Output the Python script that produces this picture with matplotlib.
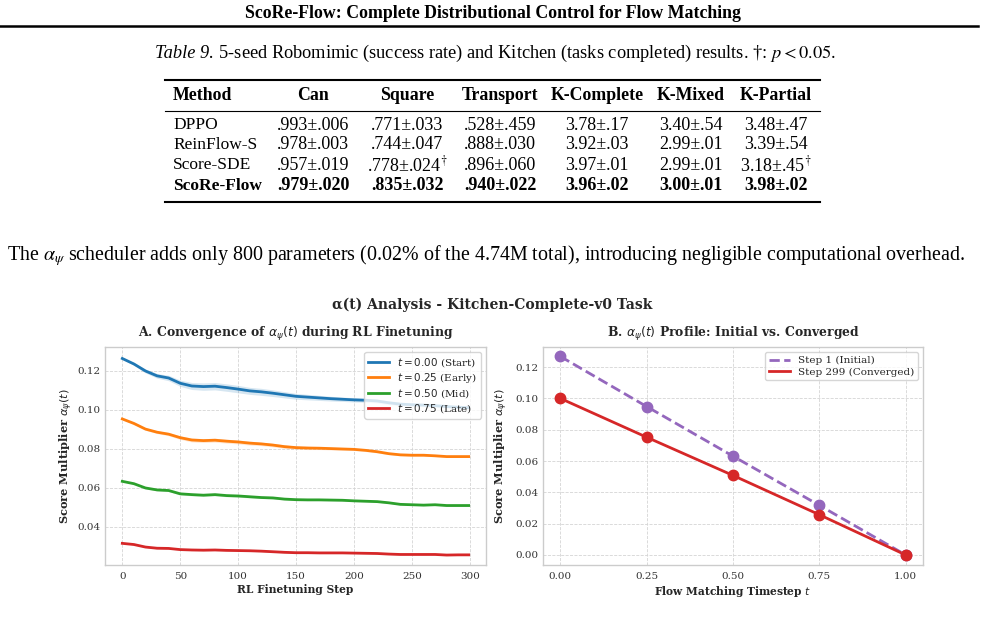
import matplotlib
matplotlib.use("Agg")
import matplotlib.pyplot as plt
from matplotlib.lines import Line2D

# ---- table data ----
columns = ["Method", "Can", "Square", "Transport", "K-Complete", "K-Mixed", "K-Partial"]
methods = ["DPPO", "ReinFlow-S", "Score-SDE", "ScoRe-Flow"]
table_rows = [
    [".993±.006", ".771±.033", ".528±.459", "3.78±.17", "3.40±.54", "3.48±.47"],
    [".978±.003", ".744±.047", ".888±.030", "3.92±.03", "2.99±.01", "3.39±.54"],
    [".957±.019", ".778±.024$^{\\dagger}$", ".896±.060", "3.97±.01", "2.99±.01", "3.18±.45$^{\\dagger}$"],
    [".979±.020", ".835±.032", ".940±.022", "3.96±.02", "3.00±.01", "3.98±.02"],
]

# ---- panel A: alpha_psi(t) during finetuning (mean and std over seeds) ----
steps = [0, 10, 20, 30, 40, 50, 60, 70, 80, 90, 100, 110, 120, 130, 140, 150,
         160, 170, 180, 190, 200, 210, 220, 230, 240, 250, 260, 270, 280, 290, 299]
alpha_t000 = [0.1264, 0.1236, 0.1200, 0.1175, 0.1164, 0.1137, 0.1123, 0.1120, 0.1122, 0.1115, 0.1107,
              0.1098, 0.1093, 0.1086, 0.1078, 0.1070, 0.1066, 0.1062, 0.1058, 0.1055, 0.1052,
              0.1050, 0.1046, 0.1037, 0.1030, 0.1027, 0.1025, 0.1022, 0.1018, 0.1014, 0.1012]
alpha_t025 = [0.0954, 0.0931, 0.0902, 0.0886, 0.0876, 0.0858, 0.0846, 0.0843, 0.0845, 0.0840, 0.0836,
              0.0830, 0.0826, 0.0820, 0.0812, 0.0807, 0.0805, 0.0804, 0.0802, 0.0800, 0.0798,
              0.0793, 0.0786, 0.0776, 0.0770, 0.0768, 0.0768, 0.0765, 0.0761, 0.0761, 0.0761]
alpha_t050 = [0.0634, 0.0622, 0.0600, 0.0590, 0.0587, 0.0570, 0.0566, 0.0563, 0.0566, 0.0561, 0.0559,
              0.0555, 0.0551, 0.0549, 0.0543, 0.0540, 0.0539, 0.0539, 0.0538, 0.0537, 0.0534,
              0.0532, 0.0530, 0.0524, 0.0516, 0.0514, 0.0512, 0.0514, 0.0510, 0.0510, 0.0510]
alpha_t075 = [0.0316, 0.0310, 0.0297, 0.0291, 0.0290, 0.0284, 0.0282, 0.0281, 0.0282, 0.0280, 0.0279,
              0.0278, 0.0276, 0.0273, 0.0270, 0.0268, 0.0268, 0.0267, 0.0267, 0.0267, 0.0266,
              0.0265, 0.0264, 0.0261, 0.0259, 0.0259, 0.0259, 0.0259, 0.0256, 0.0257, 0.0257]
std_t000 = [0.0004, 0.0007, 0.0010, 0.0012, 0.0014, 0.0016, 0.0018, 0.0019, 0.0019, 0.0019, 0.0019,
            0.0018, 0.0018, 0.0017, 0.0016, 0.0015, 0.0014, 0.0013, 0.0012, 0.0011, 0.0011,
            0.0010, 0.0010, 0.0009, 0.0009, 0.0008, 0.0008, 0.0007, 0.0007, 0.0006, 0.0006]
std_t025 = [0.0003, 0.0005, 0.0006, 0.0007, 0.0008, 0.0009, 0.0010, 0.0010, 0.0010, 0.0010, 0.0010,
            0.0010, 0.0009, 0.0009, 0.0009, 0.0008, 0.0008, 0.0007, 0.0007, 0.0007, 0.0006,
            0.0006, 0.0006, 0.0005, 0.0005, 0.0005, 0.0005, 0.0004, 0.0004, 0.0004, 0.0004]
std_t050 = [0.0002, 0.0003, 0.0004, 0.0005, 0.0005, 0.0006, 0.0006, 0.0006, 0.0006, 0.0006, 0.0006,
            0.0006, 0.0005, 0.0005, 0.0005, 0.0005, 0.0004, 0.0004, 0.0004, 0.0004, 0.0004,
            0.0003, 0.0003, 0.0003, 0.0003, 0.0003, 0.0003, 0.0003, 0.0003, 0.0003, 0.0003]
std_t075 = [0.0001, 0.0002, 0.0002, 0.0003, 0.0003, 0.0003, 0.0003, 0.0003, 0.0003, 0.0003, 0.0003,
            0.0003, 0.0003, 0.0003, 0.0003, 0.0003, 0.0002, 0.0002, 0.0002, 0.0002, 0.0002,
            0.0002, 0.0002, 0.0002, 0.0002, 0.0002, 0.0002, 0.0002, 0.0002, 0.0002, 0.0002]
series_labels = ["$t = 0.00$ (Start)", "$t = 0.25$ (Early)", "$t = 0.50$ (Mid)", "$t = 0.75$ (Late)"]
series_colors = ["#1f77b4", "#ff7f0e", "#2ca02c", "#d62728"]

# ---- panel B: profile over flow timestep ----
flow_t = [0.0, 0.25, 0.50, 0.75, 1.0]
alpha_initial = [0.1268, 0.0948, 0.0631, 0.0317, 0.0]
alpha_converged = [0.1000, 0.0752, 0.0508, 0.0257, 0.0]

plt.rcParams.update({
    "font.family": "DejaVu Serif",
    "axes.edgecolor": "#cccccc", "axes.linewidth": 1.0,
    "grid.color": "#d5d5d5", "grid.linestyle": "--", "grid.linewidth": 0.6,
    "xtick.color": "#333333", "ytick.color": "#333333",
    "xtick.labelcolor": "#333333", "ytick.labelcolor": "#333333",
    "axes.labelcolor": "#262626", "text.color": "#262626",
})

fig = plt.figure(figsize=(9.85, 6.19), dpi=100)
W, H = 985.0, 619.0
def px(x, y): return x / W, 1 - y / H
PAGE = "Liberation Serif"
renderer = fig.canvas.get_renderer()

# ---- page header ----
fig.text(*px(493, 13), "ScoRe-Flow: Complete Distributional Control for Flow Matching",
         ha="center", va="center", family=PAGE, weight="bold", fontsize=12.8, color="black")
fig.add_artist(Line2D([0, 978 / W], [1 - 26 / H] * 2, color="black", lw=1.8))

# ---- table caption ----
cap1 = fig.text(*px(155, 53), "Table 9.", ha="left", va="center", family=PAGE, style="italic",
                fontsize=13.2, color="black")
x_after = cap1.get_window_extent(renderer).x1
fig.text(x_after / W, 1 - 53 / H,
         " 5-seed Robomimic (success rate) and Kitchen (tasks completed) results. †: $p < 0.05$.",
         ha="left", va="center", family=PAGE, fontsize=13.2, color="black", math_fontfamily="stix")

# ---- table ----
col_x = [173, 313, 407, 500, 597, 691, 776]
row_y = [125, 145, 165, 186]
fig.add_artist(Line2D([165 / W, 820 / W], [1 - 80 / H] * 2, color="black", lw=1.5))
fig.add_artist(Line2D([165 / W, 820 / W], [1 - 111 / H] * 2, color="black", lw=0.8))
fig.add_artist(Line2D([165 / W, 820 / W], [1 - 202 / H] * 2, color="black", lw=1.5))
for j, c in enumerate(columns):
    fig.text(*px(col_x[j], 96), c, ha="left" if j == 0 else "center", va="center",
             family=PAGE, weight="bold", fontsize=12.8, color="black")
for i, m in enumerate(methods):
    wt = "bold" if m == "ScoRe-Flow" else "normal"
    fig.text(*px(col_x[0], row_y[i]), m, ha="left", va="center", family=PAGE, weight=wt,
             fontsize=12.5, color="black")
    for j, v in enumerate(table_rows[i]):
        fig.text(*px(col_x[j + 1], row_y[i]), v, ha="center", va="center", family=PAGE, weight=wt,
                 fontsize=13, color="black", math_fontfamily="stix")

# ---- paragraph ----
fig.text(*px(7, 256), "The $\\alpha_\\psi$ scheduler adds only 800 parameters (0.02% of the 4.74M total), "
         "introducing negligible computational overhead.",
         ha="left", va="center", family=PAGE, fontsize=14.4, color="black", math_fontfamily="stix")

# ---- figure ----
fig.text(*px(492, 305), "α(t) Analysis - Kitchen-Complete-v0 Task", ha="center", va="center",
         weight="bold", fontsize=10)

ax1 = fig.add_axes([105 / W, 1 - 565 / H, 381 / W, 218 / H])
ax2 = fig.add_axes([543 / W, 1 - 565 / H, 380 / W, 218 / H])

means = [alpha_t000, alpha_t025, alpha_t050, alpha_t075]
stds = [std_t000, std_t025, std_t050, std_t075]
for mu, sd, lab, col in zip(means, stds, series_labels, series_colors):
    ax1.plot(steps, mu, color=col, lw=2, label=lab)
    ax1.fill_between(steps, [a - b for a, b in zip(mu, sd)], [a + b for a, b in zip(mu, sd)],
                     color=col, alpha=0.18, lw=0)
ax1.set_ylim(0.0205, 0.1323)
ax1.set_yticks([0.04, 0.06, 0.08, 0.10, 0.12])
ax1.set_xticks([0, 50, 100, 150, 200, 250, 300])
ax1.set_title("A. Convergence of $\\alpha_\\psi(t)$ during RL Finetuning", weight="bold", fontsize=8.9, pad=7)
ax1.set_xlabel("RL Finetuning Step", weight="bold", fontsize=7.7, labelpad=2)
ax1.set_ylabel("Score Multiplier $\\alpha_\\psi(t)$", weight="bold", fontsize=8.2)
ax1.yaxis.set_label_coords(-0.08, 0.5)
ax1.legend(loc="upper right", fontsize=7.5, framealpha=0.8, edgecolor="#cccccc", handlelength=2.0,
           borderpad=0.35, labelspacing=0.2)

ax2.plot(flow_t, alpha_initial, color="#9467bd", lw=2, ls="--", label="Step 1 (Initial)")
ax2.plot(flow_t, alpha_converged, color="#d62728", lw=2, label="Step 299 (Converged)")
ax2.plot(flow_t, alpha_initial, color="#9467bd", ls="none", marker="o", ms=7.5)
ax2.plot(flow_t, alpha_converged, color="#d62728", ls="none", marker="o", ms=7.5)
ax2.set_ylim(-0.0064, 0.1328)
ax2.set_xticks(flow_t)
ax2.set_yticks([0.0, 0.02, 0.04, 0.06, 0.08, 0.10, 0.12])
ax2.set_title("B. $\\alpha_\\psi(t)$ Profile: Initial vs. Converged", weight="bold", fontsize=8.9, pad=7)
ax2.set_xlabel("Flow Matching Timestep $t$", weight="bold", fontsize=7.7, labelpad=2)
ax2.set_ylabel("Score Multiplier $\\alpha_\\psi(t)$", weight="bold", fontsize=8.2)
ax2.yaxis.set_label_coords(-0.087, 0.5)
ax2.legend(loc="upper right", fontsize=7.5, framealpha=0.8, edgecolor="#cccccc", handlelength=2.0,
           borderpad=0.35, labelspacing=0.2)

for ax in (ax1, ax2):
    ax.grid(True)
    ax.set_axisbelow(True)
    ax.tick_params(axis="y", labelsize=7.5, length=0, pad=3)
    ax.tick_params(axis="x", labelsize=7.5, length=0, pad=5)
    ax.yaxis.set_major_formatter(matplotlib.ticker.FormatStrFormatter("%.2f"))
ax2.xaxis.set_major_formatter(matplotlib.ticker.FormatStrFormatter("%.2f"))

fig.savefig("out.png", dpi=100)
